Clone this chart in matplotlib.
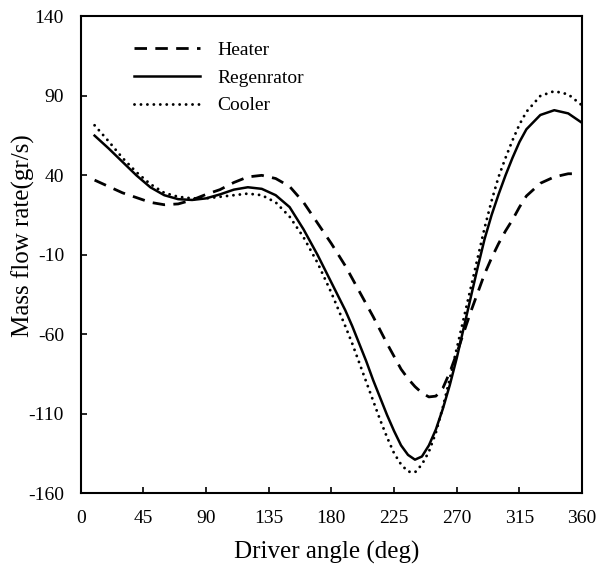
import numpy as np
import matplotlib
matplotlib.use('Agg')
import matplotlib.pyplot as plt

plt.rcParams['font.family'] = ['Liberation Serif', 'DejaVu Serif']
plt.rcParams['axes.unicode_minus'] = False

# driver angle (deg)
angle = [10, 20, 30, 40, 50, 60, 70, 80, 90, 100, 110, 120, 130, 140, 150,
         160, 170, 180, 190, 195, 200, 205, 210, 215, 220, 225, 230, 235,
         240, 245, 250, 255, 260, 265, 270, 275, 280, 285, 290, 295, 300,
         305, 310, 315, 320, 330, 340, 350, 360]

heater = [37, 33, 29, 26, 23, 21.5, 22, 24.5, 28, 31, 35.5, 39, 40, 38, 33,
          23, 10, -3, -17, -25, -33, -41, -49, -57.5, -66, -74, -82, -88,
          -93, -97, -99.5, -99, -94, -84, -72, -59, -46, -34, -22, -12, -3,
          5, 12, 20, 27, 35, 39, 41, 41]

regenerator = [65, 57, 48.5, 40, 32.5, 27.5, 25, 24.5, 25.5, 28, 31, 32.5,
               31.5, 27.5, 20, 6, -10, -27.5, -45, -55, -66, -77, -89, -100,
               -111, -121, -130, -136, -139, -137, -130, -120, -107, -92, -75,
               -56, -37, -18, 0, 15, 28, 40, 51, 61, 69, 78, 81, 79, 73]

cooler = [71.5, 61.5, 51, 42, 34.5, 29, 26.5, 25.5, 25.5, 26.5, 27.5, 28.5,
          27.5, 23, 14, 1, -15, -34, -55, -66, -78, -90, -102, -114, -125,
          -135, -142, -146.5, -147, -142, -134, -122, -106, -88, -69, -50,
          -31, -12, 7, 24, 39, 51, 62, 72, 80, 90, 93, 91, 84]

# heater curve stops a little before 360
heater_angle = angle[:-1] + [355]

xticks = [0, 45, 90, 135, 180, 225, 270, 315, 360]
yticks = [-160, -110, -60, -10, 40, 90, 140]

fig = plt.figure(figsize=(6.02, 5.65), dpi=100)
ax = fig.add_axes([0.134, 0.1274, 0.833, 0.8434])

ax.plot(heater_angle, heater, color='black', lw=2.0,
        linestyle=(0, (4.5, 3.0)), label='Heater')
ax.plot(angle, regenerator, color='black', lw=1.8, label='Regenrator')
ax.plot(angle, cooler, color='black', lw=2.1, linestyle=(0, (0.01, 2.2)),
        dash_capstyle='round', label='Cooler')

ax.set_xlim(0, 360)
ax.set_ylim(-160, 140)
ax.set_xticks(xticks)
ax.set_yticks(yticks)
ax.tick_params(direction='in', length=4, width=1.2, labelsize=14, pad=12)

for sp in ax.spines.values():
    sp.set_linewidth(1.5)

ax.set_xlabel('Driver angle (deg)', fontsize=18)
ax.set_ylabel('Mass flow rate(gr/s)', fontsize=18)
ax.xaxis.set_label_coords(0.49, -0.1)
ax.yaxis.set_label_coords(-0.092, 0.54)

ax.legend(loc='upper left', bbox_to_anchor=(0.107, 0.948), frameon=False,
          fontsize=14, handlelength=3.4, handletextpad=0.85,
          labelspacing=0.52, borderpad=0, borderaxespad=0)

fig.savefig('out.png', dpi=100)
